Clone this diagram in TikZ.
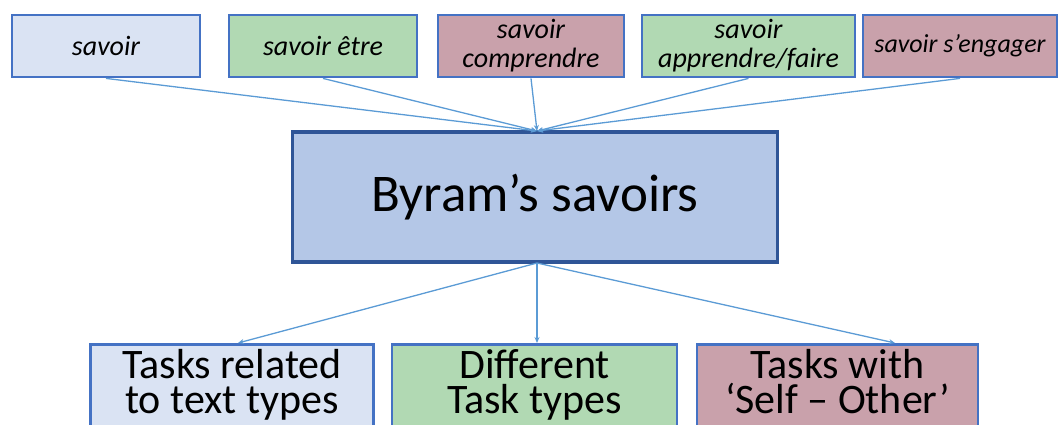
\documentclass[tikz,border=0pt]{standalone}
\usepackage{fontspec}
\setmainfont{Carlito}
\usetikzlibrary{arrows.meta}
\definecolor{bord}{HTML}{4472C4}
\definecolor{bordC}{HTML}{2F5597}
\definecolor{fblue}{HTML}{DAE3F3}
\definecolor{fgreen}{HTML}{B1D9B3}
\definecolor{fmauve}{HTML}{C9A1AB}
\definecolor{fcenter}{HTML}{B4C7E7}
\definecolor{conn}{HTML}{5B9BD5}
\tikzset{
  topbox/.style={draw=bord, line width=2.8pt, minimum height=62pt, inner sep=0pt,
    align=center, font=\fontsize{28}{29}\selectfont\itshape},
  centerbox/.style={draw=bordC, fill=fcenter, line width=3.6pt, minimum width=485pt,
    minimum height=130pt, inner sep=0pt, font=\fontsize{53}{60}\selectfont},
  botbox/.style={draw=bord, line width=2.8pt, minimum height=90pt, anchor=north,
    inner sep=0pt, minimum width=283pt},
  bottext/.style={anchor=north, inner sep=0pt, align=center,
    font=\fontsize{42}{35}\selectfont},
  conline/.style={draw=conn, line width=1.3pt, -{Stealth[length=6pt,width=5pt]}},
}
\begin{document}
\begin{tikzpicture}[x=1pt,y=-1pt]
\useasboundingbox (0,0) rectangle (1061,424);
\clip (0,0) rectangle (1061,424);
\node[topbox, fill=fblue,  minimum width=188pt] (s1) at (106,46) {savoir};
\node[topbox, fill=fgreen, minimum width=188pt] (s2) at (323,46) {savoir être};
\node[topbox, fill=fmauve, minimum width=186pt] (s3) at (531,46) {savoir\\comprendre};
\node[topbox, fill=fgreen, minimum width=213pt] (s4) at (748.5,46) {savoir\\apprendre/faire};
\node[topbox, fill=fmauve, minimum width=194pt, font=\fontsize{26}{29}\selectfont\itshape] (s5) at (960,46) {savoir s’engager};
\node[centerbox] (c) at (535,197) {Byram’s savoirs};
\coordinate (top) at (537,131);
\coordinate (bot) at (537,263);
\node[botbox, fill=fblue,  minimum width=283pt] (b1) at (232,343) {};
\node[botbox, fill=fgreen, minimum width=285pt] (b2) at (534.5,343) {};
\node[botbox, fill=fmauve, minimum width=281pt] (b3) at (837.5,343) {};
\node[bottext] (t1) at ([yshift=-6pt]b1.north) {Tasks related\\to text types};
\node[bottext] (t2) at ([yshift=-6pt]b2.north) {Different\\Task types};
\node[bottext] (t3) at ([yshift=-6pt]b3.north) {Tasks with\\‘Self – Other’};
\foreach \s in {s1,s2,s3,s4,s5} \draw[conline] (\s.south) -- (top);
\draw[conline] (bot) -- (b1.north -| 238,0);
\draw[conline] (bot) -- (b2.north -| 537,0);
\draw[conline] (bot) -- (b3.north -| 895,0);
\end{tikzpicture}
\end{document}
